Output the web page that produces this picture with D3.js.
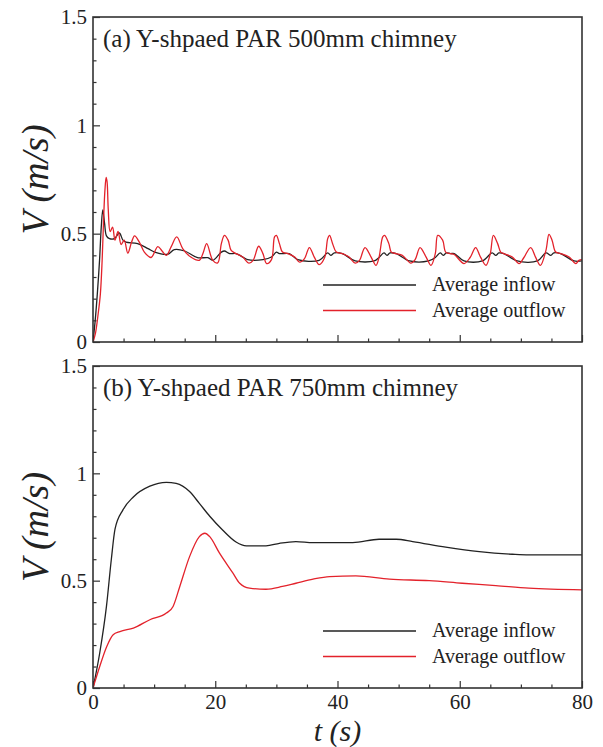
<!DOCTYPE html>
<html>
<head>
<meta charset="utf-8">
<script src="https://cdn.jsdelivr.net/npm/d3@7"></script>
<style>
  body { margin: 0; background: #fff; }
  svg text { font-family: "Times New Roman", Times, "Liberation Serif", "Noto Serif", "DejaVu Serif", serif; fill: #222; }
</style>
</head>
<body>
<div id="chart"></div>
<script>
// Chart size
const width = 603,
    height = 747;

// Panel (a): 500mm chimney
const inflowA = [
    [0, 0], [0.36, 0.10], [0.7, 0.22], [1.07, 0.377], [1.35, 0.53], [1.6, 0.61], [1.9, 0.546],
    [2.2, 0.49], [2.7, 0.477], [3.5, 0.477], [4.3, 0.503], [4.9, 0.47], [5.4, 0.461], [7.3, 0.454],
    [9.0, 0.431], [10.1, 0.415], [12.2, 0.405], [13.3, 0.426], [15.0, 0.42], [17.1, 0.389],
    [18.8, 0.389], [19.6, 0.377], [21.0, 0.415], [21.5, 0.42], [22.35, 0.408], [23.4, 0.408],
    [24.5, 0.392], [25.3, 0.38], [27.8, 0.38], [29.2, 0.392], [30.0, 0.415], [30.5, 0.408],
    [32.1, 0.408], [33.5, 0.38], [37.0, 0.377], [38.4, 0.411], [38.9, 0.40], [39.5, 0.411],
    [40.8, 0.408], [42.9, 0.374], [46.0, 0.374], [46.8, 0.39], [47.6, 0.411], [48.1, 0.40],
    [48.6, 0.411], [49.6, 0.408], [51.8, 0.374], [54.9, 0.374], [56.0, 0.39], [56.8, 0.411],
    [57.3, 0.40], [57.8, 0.411], [58.5, 0.408], [59.1, 0.408], [60.7, 0.374], [63.7, 0.374],
    [65.3, 0.411], [65.9, 0.40], [66.4, 0.411], [67.2, 0.408], [69.4, 0.374], [72.7, 0.374],
    [74.1, 0.411], [74.9, 0.40], [75.4, 0.411], [76.5, 0.408], [78.7, 0.374], [80, 0.374]
];
const outflowA = [
    [0, 0], [0.4, 0.04], [0.8, 0.12], [1.2, 0.22], [1.5, 0.38], [1.75, 0.58], [1.95, 0.70],
    [2.15, 0.76], [2.3, 0.74], [2.5, 0.61], [2.8, 0.51], [3.2, 0.53], [3.6, 0.47], [4.1, 0.51],
    [4.6, 0.45], [5.1, 0.47], [5.7, 0.41], [6.3, 0.46], [6.8, 0.49], [7.6, 0.46], [8.4, 0.415],
    [9.5, 0.39], [10.6, 0.44], [11.3, 0.42], [12.0, 0.40], [12.8, 0.44], [13.7, 0.485],
    [14.7, 0.43], [16.0, 0.392], [17.4, 0.377], [18.0, 0.41], [18.6, 0.454], [19.6, 0.377],
    [20.4, 0.365], [21.0, 0.454], [21.5, 0.492], [22.1, 0.47], [22.6, 0.423], [23.4, 0.408],
    [24.5, 0.392], [25.5, 0.364], [26.2, 0.377], [27.1, 0.442], [27.8, 0.408], [28.4, 0.362],
    [29.2, 0.38], [29.7, 0.485], [30.0, 0.492], [30.5, 0.454], [31.0, 0.415], [31.9, 0.408],
    [33.0, 0.392], [33.8, 0.369], [34.6, 0.385], [35.4, 0.436], [36.2, 0.392], [37.0, 0.357],
    [37.9, 0.39], [38.4, 0.477], [38.7, 0.492], [39.2, 0.454], [39.8, 0.415], [40.8, 0.408],
    [41.9, 0.392], [42.9, 0.364], [43.6, 0.377], [44.5, 0.436], [45.5, 0.392], [46.3, 0.354],
    [46.8, 0.392], [47.4, 0.485], [47.7, 0.492], [48.4, 0.454], [48.8, 0.415], [49.6, 0.408],
    [50.6, 0.40], [52.0, 0.364], [52.7, 0.38], [53.5, 0.436], [54.5, 0.392], [55.3, 0.354],
    [56.0, 0.408], [56.4, 0.492], [57.2, 0.47], [57.7, 0.415], [58.5, 0.408], [59.1, 0.404],
    [60.7, 0.362], [61.7, 0.39], [62.6, 0.436], [63.4, 0.392], [64.3, 0.354], [65.0, 0.408],
    [65.5, 0.492], [66.2, 0.454], [66.7, 0.415], [67.2, 0.408], [68.6, 0.392], [69.7, 0.362],
    [70.5, 0.39], [71.6, 0.436], [72.4, 0.392], [73.2, 0.354], [74.1, 0.423], [74.6, 0.497],
    [75.1, 0.47], [75.7, 0.415], [76.5, 0.408], [77.9, 0.392], [79.0, 0.362], [79.5, 0.377],
    [80, 0.38]
];

// Panel (b): 750mm chimney
const inflowB = [
    [0, 0], [1.1, 0.163], [2.2, 0.38], [3.0, 0.60], [3.6, 0.74], [4.9, 0.83], [6.6, 0.89],
    [9.3, 0.94], [12.0, 0.958], [13.6, 0.953], [15.8, 0.915], [17.4, 0.86], [19.1, 0.80],
    [21.2, 0.736], [23.4, 0.68], [25.1, 0.662], [28.3, 0.662], [30.5, 0.674], [33.2, 0.682],
    [36.0, 0.677], [42.5, 0.677], [46.8, 0.693], [49.6, 0.693], [52.3, 0.682], [57.7, 0.656],
    [63.2, 0.635], [68.6, 0.623], [71.3, 0.62], [80, 0.62]
];
const outflowB = [
    [0, 0], [1.1, 0.10], [2.2, 0.19], [3.3, 0.248], [4.4, 0.263], [6.6, 0.279], [9.3, 0.318],
    [12.0, 0.349], [13.1, 0.38], [14.2, 0.473], [15.8, 0.612], [17.4, 0.705], [18.3, 0.721],
    [19.1, 0.705], [20.7, 0.628], [22.9, 0.535], [24.0, 0.488], [25.6, 0.465], [28.3, 0.46],
    [31.0, 0.473], [33.2, 0.488], [36.0, 0.507], [38.7, 0.519], [43.0, 0.522], [48.5, 0.507],
    [55.0, 0.50], [60.4, 0.488], [65.9, 0.477], [71.3, 0.465], [80, 0.457]
];

const xTicks = [0, 20, 40, 60, 80];
const yTicks = [0, 0.5, 1, 1.5];
const yTickLabels = ["0", "0.5", "1", "1.5"];
const seriesNames = ["Average inflow", "Average outflow"];
const seriesColors = ["#222222", "#e3222b"];

const panels = [
    { title: "(a) Y-shpaed PAR 500mm chimney", top: 17, bottom: 342, data: [inflowA, outflowA], showX: false, curve: d3.curveCatmullRom.alpha(0.5) },
    { title: "(b) Y-shpaed PAR 750mm chimney", top: 366, bottom: 688, data: [inflowB, outflowB], showX: true, curve: d3.curveMonotoneX }
];

const left = 93,
    right = 582;
const serif = "'Times New Roman', Times, 'Liberation Serif', 'Noto Serif', 'DejaVu Serif', serif";

const svg = d3.select("#chart")
    .append("svg")
    .attr("width", width)
    .attr("height", height);

const x = d3.scaleLinear()
    .domain([0, 80])
    .range([left, right]);

panels.forEach(function(p) {
    const y = d3.scaleLinear()
        .domain([0, 1.5])
        .range([p.bottom, p.top]);

    const g = svg.append("g");

    // Clip the curves to the frame
    const clipId = "clip-" + p.top;
    g.append("clipPath").attr("id", clipId)
        .append("rect")
        .attr("x", left).attr("y", p.top)
        .attr("width", right - left).attr("height", p.bottom - p.top);

    // Minor and major ticks, pointing inward
    const xMinor = d3.range(0, 81, 5).filter(v => v % 20 !== 0);
    const yMinor = d3.range(1, 15).map(v => v / 10).filter(v => Math.round(v * 10) % 5 !== 0);

    g.append("g")
        .attr("transform", `translate(0,${p.bottom})`)
        .call(d3.axisBottom(x).tickValues(xMinor).tickSize(-3.5).tickFormat(""))
        .call(a => a.select(".domain").remove());
    g.append("g")
        .attr("transform", `translate(0,${p.bottom})`)
        .call(d3.axisBottom(x).tickValues(xTicks).tickSize(-7).tickPadding(6)
            .tickFormat(d => p.showX ? d : ""))
        .call(a => a.select(".domain").remove());
    g.append("g")
        .attr("transform", `translate(${left},0)`)
        .call(d3.axisLeft(y).tickValues(yMinor).tickSize(-3.5).tickFormat(""))
        .call(a => a.select(".domain").remove());
    g.append("g")
        .attr("transform", `translate(${left},0)`)
        .call(d3.axisLeft(y).tickValues(yTicks).tickSize(-7).tickPadding(6)
            .tickFormat((d, i) => yTickLabels[i]))
        .call(a => a.select(".domain").remove());

    g.selectAll("g").attr("font-family", serif);
    g.selectAll(".tick line").attr("stroke", "#333").attr("stroke-width", 1.2);
    g.selectAll(".tick text")
        .style("font-family", serif)
        .style("font-size", "21px")
        .attr("fill", "#333");

    // Curves
    const line = d3.line()
        .x(d => x(d[0]))
        .y(d => y(d[1]))
        .curve(p.curve);

    g.append("g").attr("clip-path", `url(#${clipId})`)
        .selectAll("path")
        .data(p.data)
        .enter().append("path")
        .attr("d", line)
        .attr("fill", "none")
        .attr("stroke", (d, i) => seriesColors[i])
        .attr("stroke-width", 1.3);

    // Frame
    g.append("rect")
        .attr("x", left).attr("y", p.top)
        .attr("width", right - left).attr("height", p.bottom - p.top)
        .attr("fill", "none")
        .attr("stroke", "#333")
        .attr("stroke-width", 1.6);

    // Panel title
    g.append("text")
        .attr("x", 103)
        .attr("y", p.top + 30)
        .style("font-family", serif)
        .style("font-size", "25px")
        .text(p.title);

    // Y label
    g.append("text")
        .attr("transform", `translate(48,${(p.top + p.bottom) / 2}) rotate(-90)`)
        .attr("text-anchor", "middle")
        .style("font-family", serif)
        .style("font-size", "38px")
        .style("font-style", "italic")
        .text("V (m/s)");

    // Legend
    const legendY = p.bottom - 57;
    seriesNames.forEach(function(name, i) {
        const ly = legendY + i * 25.5;
        g.append("line")
            .attr("x1", 323).attr("x2", 416)
            .attr("y1", ly).attr("y2", ly)
            .attr("stroke", seriesColors[i])
            .attr("stroke-width", 1.3);
        g.append("text")
            .attr("x", 432)
            .attr("y", ly + 6)
            .style("font-family", serif)
            .style("font-size", "20px")
            .text(name);
    });
});

// X label
svg.append("text")
    .attr("x", (left + right) / 2)
    .attr("y", 741)
    .attr("text-anchor", "middle")
    .style("font-family", serif)
    .style("font-size", "30px")
    .style("font-style", "italic")
    .text("t (s)");
</script>
</body>
</html>
